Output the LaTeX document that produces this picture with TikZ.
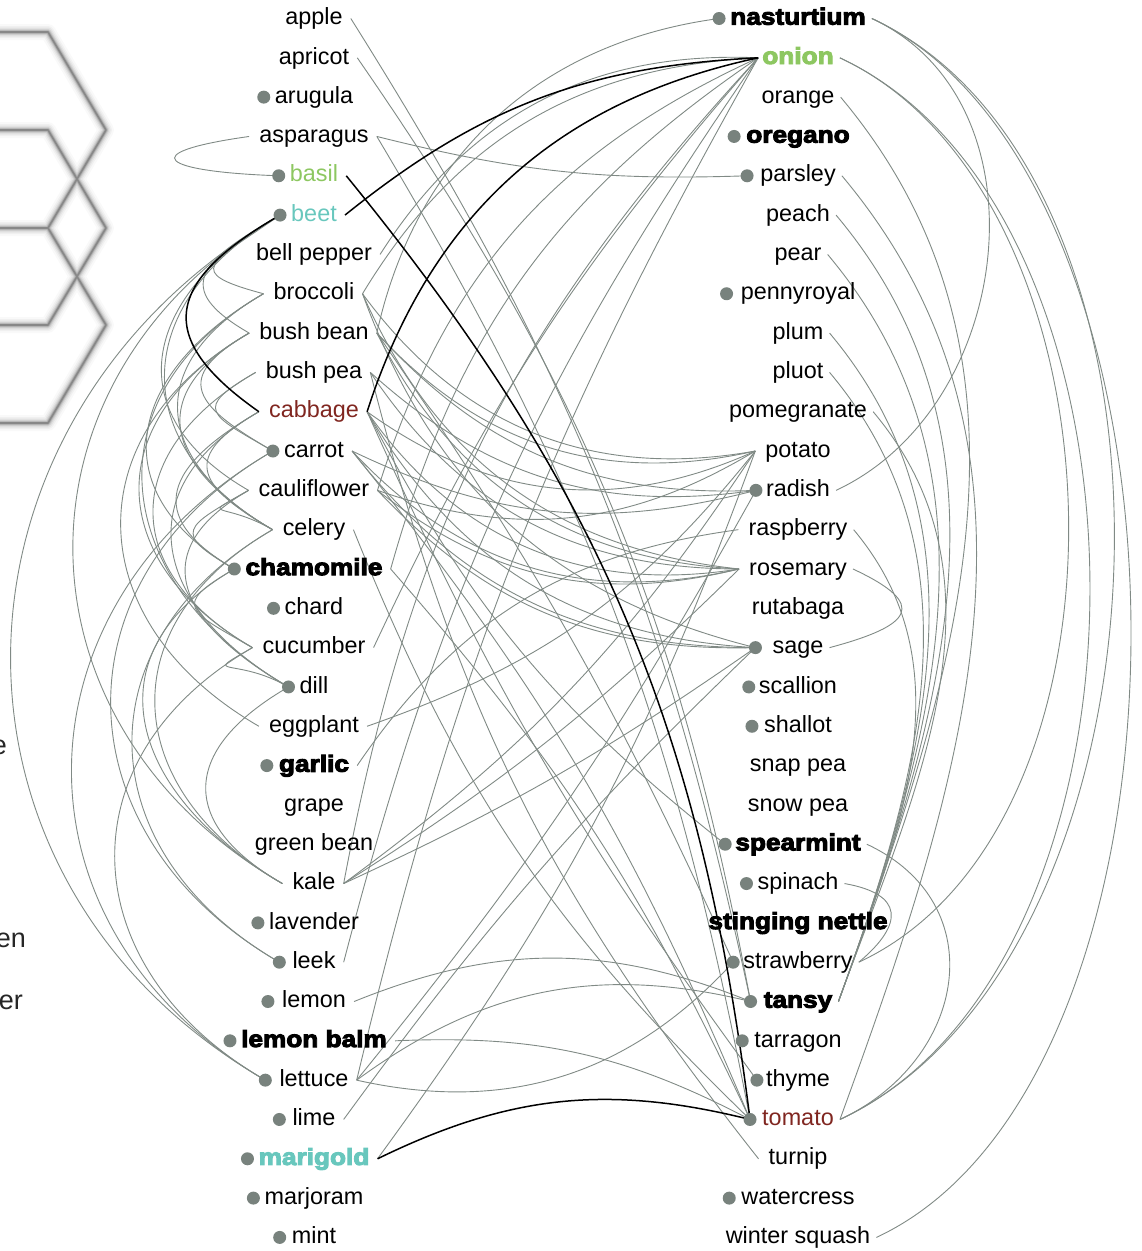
\documentclass[tikz,border=0pt]{standalone}
\usepackage{fontspec}
\setmainfont{Liberation Sans}
\newfontfamily\heavyfont[FakeBold=4.2,FakeStretch=1.12]{Liberation Sans Bold}
\usetikzlibrary{calc}
\pgfdeclarelayer{links}
\pgfsetlayers{links,main}

\definecolor{linkgray}{RGB}{128,138,133}
\definecolor{dotgray}{RGB}{120,130,125}
\definecolor{leafgreen}{RGB}{141,199,97}
\definecolor{tealc}{RGB}{104,199,189}
\definecolor{brick}{RGB}{128,38,32}

\newcommand\labelfont{\fontsize{23.4}{28}\selectfont}

\tikzset{
  plant/.style={anchor=mid, inner sep=0pt, font=\labelfont},
  heavy/.style={font=\labelfont\heavyfont},
  plantdot/.style={circle, fill=dotgray, draw=none, inner sep=0pt, minimum size=13pt},
  link/.style={draw=linkgray, line width=0.9pt},
  hot/.style={draw=black, line width=1.5pt},
  cutword/.style={anchor=mid east, inner sep=0pt, font=\fontsize{27}{32}\selectfont, text=black!85},
}

% left column: text centred at x=314, right column at x=798
\newcommand\leftplant[4]{%
  \node[plant,#3] (#1) at (314,{18.5+39.32*#2}) {#4};
  \coordinate (#1-R) at ($(#1.mid east)+(8,0)$);
  \coordinate (#1-L) at ($(#1.mid west)+(-10,0)$);}
\newcommand\leftplantdot[5]{%
  \node[plant,#3] (#1) at (314,{18.5+39.32*#2}) {#4};
  \node[plantdot] (#1-dot) at ($(#1.mid west)+(-#5,0)$) {};
  \coordinate (#1-R) at ($(#1.mid east)+(8,0)$);
  \coordinate (#1-L) at (#1-dot.center);}
\newcommand\rightplant[4]{%
  \node[plant,#3] (#1) at (798,{18.5+39.32*#2}) {#4};
  \coordinate (#1-R) at ($(#1.mid east)+(6,0)$);
  \coordinate (#1-L) at ($(#1.mid west)+(-10,0)$);}
\newcommand\rightplantdot[5]{%
  \node[plant,#3] (#1) at (798,{18.5+39.32*#2}) {#4};
  \node[plantdot] (#1-dot) at ($(#1.mid west)+(-#5,0)$) {};
  \coordinate (#1-R) at ($(#1.mid east)+(6,0)$);
  \coordinate (#1-L) at (#1-dot.center);}

% links: across the gap, on the left side, on the right side
\newcommand\linkLR[4][link]{\draw[#1] (#2-R) to[bend left=#4] (#3-L);}
\newcommand\linkLLx[6][link]{\draw[#1] let \p1=(#2-L), \p2=(#3-L), \n1={veclen(\x2-\x1,\y2-\y1)} in
  (#2-L) .. controls +(#4:{#6}) and +(#5:{#6}) .. (#3-L);}
\newcommand\linkLL[3][link]{\linkLLx[#1]{#2}{#3}{210}{150}{40pt+0.42*\n1}}
\newcommand\linkRRx[6][link]{\draw[#1] let \p1=(#2-R), \p2=(#3-R), \n1={veclen(\x2-\x1,\y2-\y1)} in
  (#2-R) .. controls +(#4:{#6}) and +(#5:{#6}) .. (#3-R);}
\newcommand\linkRR[3][link]{\linkRRx[#1]{#2}{#3}{-25}{25}{60pt+0.29*\n1}}
\newcommand\linkFruit[2]{\linkRRx{#1}{#2}{-50}{70}{0.38*\n1}}

\begin{document}
\labelfont
\begin{tikzpicture}[x=1pt,y=-1pt]
\useasboundingbox (0,0) rectangle (1142,1251);

% ---------- left column ----------
\leftplant{apple}{0}{}{apple}
\leftplant{apricot}{1}{}{apricot}
\leftplantdot{arugula}{2}{}{arugula}{11}
\leftplant{asparagus}{3}{}{asparagus}
\leftplantdot{basil}{4}{text=leafgreen}{basil}{11}
\leftplantdot{beet}{5}{text=tealc}{beet}{11}
\leftplant{bellpepper}{6}{}{bell pepper}
\leftplant{broccoli}{7}{}{broccoli}
\leftplant{bushbean}{8}{}{bush bean}
\leftplant{bushpea}{9}{}{bush pea}
\leftplant{cabbage}{10}{text=brick}{cabbage}
\leftplantdot{carrot}{11}{}{carrot}{11}
\leftplant{cauliflower}{12}{}{cauliflower}
\leftplant{celery}{13}{}{celery}
\leftplantdot{chamomile}{14}{heavy}{chamomile}{11}
\leftplantdot{chard}{15}{}{chard}{11}
\leftplant{cucumber}{16}{}{cucumber}
\leftplantdot{dill}{17}{}{dill}{11}
\leftplant{eggplant}{18}{}{eggplant}
\leftplantdot{garlic}{19}{heavy}{garlic}{12}
\leftplant{grape}{20}{}{grape}
\leftplant{greenbean}{21}{}{green bean}
\leftplant{kale}{22}{}{kale}
\leftplantdot{lavender}{23}{}{lavender}{11}
\leftplantdot{leek}{24}{}{leek}{13}
\leftplantdot{lemon}{25}{}{lemon}{14}
\leftplantdot{lemonbalm}{26}{heavy}{lemon balm}{11}
\leftplantdot{lettuce}{27}{}{lettuce}{14}
\leftplantdot{lime}{28}{}{lime}{13}
\leftplantdot{marigold}{29}{heavy,text=tealc}{marigold}{11}
\leftplantdot{marjoram}{30}{}{marjoram}{11}
\leftplantdot{mint}{31}{}{mint}{12}

% ---------- right column ----------
\rightplantdot{nasturtium}{0}{heavy}{nasturtium}{11}
\rightplant{onion}{1}{heavy,text=leafgreen}{onion}
\coordinate (onion-L) at ($(onion.mid west)+(-4,0)$);
\rightplant{orange}{2}{}{orange}
\rightplantdot{oregano}{3}{heavy}{oregano}{12}
\rightplantdot{parsley}{4}{}{parsley}{13}
\rightplant{peach}{5}{}{peach}
\rightplant{pear}{6}{}{pear}
\rightplantdot{pennyroyal}{7}{}{pennyroyal}{14}
\rightplant{plum}{8}{}{plum}
\rightplant{pluot}{9}{}{pluot}
\rightplant{pomegranate}{10}{}{pomegranate}
\rightplant{potato}{11}{}{potato}
\rightplantdot{radish}{12}{}{radish}{10}
\rightplant{raspberry}{13}{}{raspberry}
\rightplant{rosemary}{14}{}{rosemary}
\rightplant{rutabaga}{15}{}{rutabaga}
\rightplantdot{sage}{16}{}{sage}{17}
\rightplantdot{scallion}{17}{}{scallion}{10}
\rightplantdot{shallot}{18}{}{shallot}{12}
\rightplant{snappea}{19}{}{snap pea}
\rightplant{snowpea}{20}{}{snow pea}
\rightplantdot{spearmint}{21}{heavy}{spearmint}{10}
\rightplantdot{spinach}{22}{}{spinach}{11}
\rightplant{nettle}{23}{heavy}{stinging nettle}
\rightplantdot{strawberry}{24}{}{strawberry}{10}
\rightplantdot{tansy}{25}{heavy}{tansy}{13}
\rightplantdot{tarragon}{26}{}{tarragon}{12}
\rightplantdot{thyme}{27}{}{thyme}{9}
\rightplantdot{tomato}{28}{text=brick}{tomato}{12}
\rightplant{turnip}{29}{}{turnip}
\rightplantdot{watercress}{30}{}{watercress}{12}
\rightplant{wsquash}{31}{}{winter squash}

% ---------- words cut by the left edge ----------
\node[cutword] (cutA) at (7,748) {e};
\node[cutword] (cutB) at (26,941) {en};
\node[cutword] (cutC) at (23,1003) {er};

\begin{pgfonlayer}{links}
% soft hexagon outline in the top left corner
\foreach \w/\o in {16/0.025,12/0.035,9/0.05,6.5/0.07,4.5/0.09,3/0.12,1.6/0.2}{
  \draw[line width=\w pt, draw=black, opacity=\o, line join=round]
    (-5,32) -- (48,32) -- (106,130) -- (48,228) -- (-5,228)
    (-5,130) -- (48,130) -- (106,228) -- (48,325) -- (-5,325)
    (48,228) -- (106,325) -- (48,423) -- (-5,423);
}

% ---- same-column links, left side ----
\linkLLx{asparagus}{basil}{188}{178}{118pt}
\linkLLx{beet}{broccoli}{215}{165}{85pt}
\linkLL{beet}{cauliflower}
\linkLL{beet}{kale}
\linkLL{beet}{lettuce}
\linkLL{beet}{celery}
\linkLL{beet}{bushbean}
\linkLL{broccoli}{celery}
\linkLL{broccoli}{chamomile}
\linkLL{broccoli}{dill}
\linkLL{bushbean}{carrot}
\linkLL{bushbean}{celery}
\linkLL{bushbean}{cucumber}
\linkLL{bushbean}{eggplant}
\linkLL{bushpea}{carrot}
\linkLL{bushpea}{cucumber}
\linkLL{cabbage}{celery}
\linkLL{cabbage}{chamomile}
\linkLL{cabbage}{dill}
\linkLL{carrot}{leek}
\linkLL{carrot}{lettuce}
\linkLL{cauliflower}{celery}
\linkLL{cauliflower}{chamomile}
\linkLL{cauliflower}{dill}
\linkLL{celery}{kale}
\linkLL{celery}{leek}
\linkLL{chamomile}{cucumber}
\linkLL{chamomile}{kale}
\linkLL{cucumber}{dill}
\linkLL{cucumber}{lettuce}
\linkLL{dill}{kale}

% ---- same-column links, right side ----
\linkRR{nasturtium}{radish}
\linkRR{nasturtium}{tomato}
\linkRRx{nasturtium}{wsquash}{-25}{25}{0.31*\n1}
\linkRR{onion}{tomato}
\linkRR{onion}{strawberry}
\linkFruit{orange}{tansy}
\linkFruit{parsley}{tomato}
\linkFruit{peach}{tansy}
\linkFruit{pear}{tansy}
\linkFruit{plum}{tansy}
\linkFruit{pluot}{tansy}
\linkFruit{pomegranate}{tansy}
\linkFruit{raspberry}{tansy}
\linkRRx{rosemary}{sage}{-25}{15}{85pt}
\linkRR{spearmint}{tomato}
\linkRRx{spinach}{strawberry}{-10}{40}{60pt}

% ---- links across ----
\linkLR{apple}{tansy}{10}
\linkLR{apricot}{tansy}{12}
\linkLR{asparagus}{parsley}{-8}
\linkLR{asparagus}{tomato}{10}
\linkLR{bellpepper}{onion}{30}
\linkLR{broccoli}{onion}{28}
\linkLR{cauliflower}{onion}{24}
\linkLR{chamomile}{onion}{20}
\linkLR{cucumber}{onion}{8}
\linkLR{kale}{onion}{16}
\linkLR{leek}{onion}{10}
\linkLR{lettuce}{onion}{8}
\linkLR{bushbean}{nasturtium}{35}
\linkLR{broccoli}{potato}{-32}
\linkLR{bushbean}{potato}{-30}
\linkLR{cabbage}{potato}{-30}
\linkLR{cauliflower}{potato}{-25}
\linkLR{kale}{potato}{-10}
\linkLR{eggplant}{potato}{-16}
\linkLR{marigold}{potato}{-8}
\linkLR{bushbean}{radish}{-25}
\linkLR{bushpea}{radish}{-25}
\linkLR{carrot}{radish}{-20}
\linkLR{lettuce}{radish}{-5}
\linkLR{broccoli}{rosemary}{-30}
\linkLR{bushbean}{rosemary}{-30}
\linkLR{bushpea}{rosemary}{-28}
\linkLR{cabbage}{rosemary}{-32}
\linkLR{carrot}{rosemary}{-30}
\linkLR{cauliflower}{rosemary}{-26}
\linkLR{kale}{rosemary}{-6}
\linkLR{broccoli}{sage}{-28}
\linkLR{cabbage}{sage}{-28}
\linkLR{carrot}{sage}{-26}
\linkLR{cauliflower}{sage}{-24}
\linkLR{kale}{sage}{-5}
\linkLR{lime}{sage}{5}
\linkLR{carrot}{tomato}{8}
\linkLR{celery}{tomato}{-12}
\linkLR{chamomile}{tomato}{8}
\linkLR{lemonbalm}{tomato}{15}
\linkLR{lemon}{tansy}{22}
\linkLR{lettuce}{tansy}{25}
\linkLR{bushbean}{strawberry}{5}
\linkLR{lettuce}{strawberry}{-30}
\linkLR{cabbage}{spearmint}{-12}
\linkLR{cabbage}{thyme}{-6}
\linkLR{bushpea}{turnip}{-12}
\linkLR{garlic}{raspberry}{24}

% ---- highlighted links ----
\linkLLx[hot]{beet}{cabbage}{210}{145}{131pt}
\linkLR[hot]{basil}{tomato}{16}
\linkLR[hot]{beet}{onion}{18}
\linkLR[hot]{cabbage}{onion}{30}
\linkLR[hot]{marigold}{tomato}{20}
\end{pgfonlayer}
\end{tikzpicture}
\end{document}
